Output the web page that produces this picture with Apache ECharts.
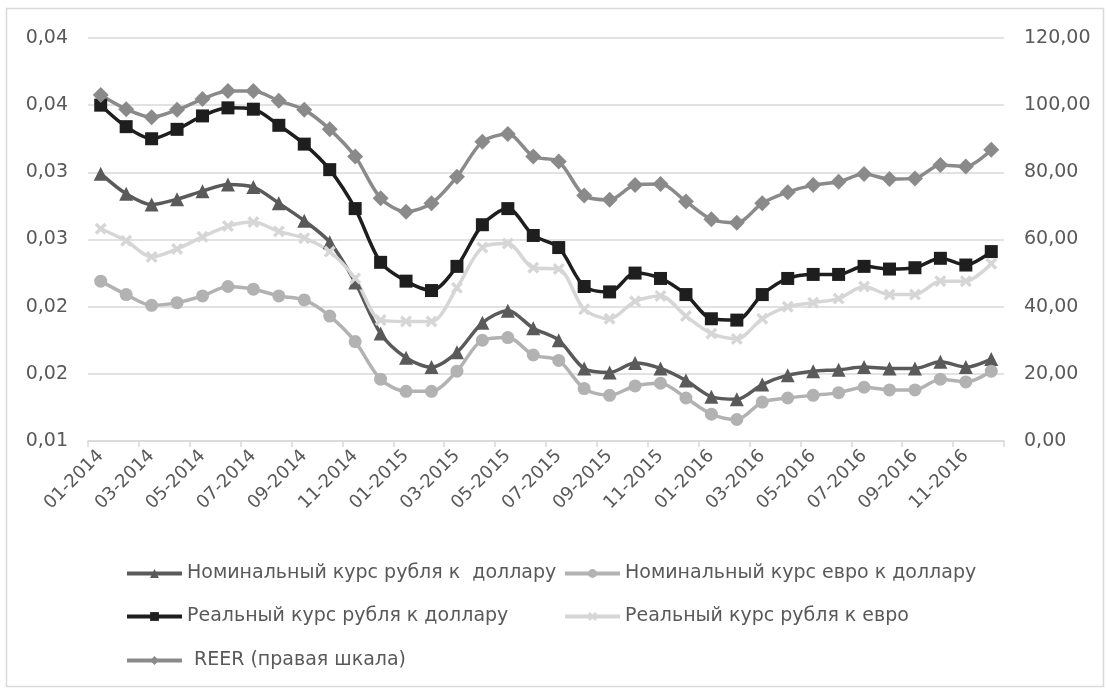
<!DOCTYPE html>
<html>
<head>
<meta charset="utf-8">
<script src="https://cdn.jsdelivr.net/npm/echarts@6/dist/echarts.min.js"></script>
<style>
  html, body { margin: 0; padding: 0; background: #ffffff; }
  #chart { width: 1108px; height: 695px; }
</style>
</head>
<body>
<div id="chart"></div>
<script>
// Months, Jan 2014 - Dec 2016
const months = [
  '01-2014','02-2014','03-2014','04-2014','05-2014','06-2014','07-2014','08-2014','09-2014','10-2014','11-2014','12-2014',
  '01-2015','02-2015','03-2015','04-2015','05-2015','06-2015','07-2015','08-2015','09-2015','10-2015','11-2015','12-2015',
  '01-2016','02-2016','03-2016','04-2016','05-2016','06-2016','07-2016','08-2016','09-2016','10-2016','11-2016','12-2016'
];

// Left scale series
const nominalRubUsd = [
  0.0299, 0.0284, 0.0276, 0.0280, 0.0286, 0.0291, 0.0289, 0.0277, 0.0264, 0.0248, 0.0218, 0.0180,
  0.0162, 0.0155, 0.0166, 0.0188, 0.0197, 0.0184, 0.0175, 0.0154, 0.0151, 0.0158, 0.0154, 0.0145,
  0.0133, 0.0131, 0.0142, 0.0149, 0.0152, 0.0153, 0.0155, 0.0154, 0.0154, 0.0159, 0.0155, 0.0161
];
const nominalEurUsd = [
  0.0219, 0.0209, 0.0201, 0.0203, 0.0208, 0.0215, 0.0213, 0.0208, 0.0205, 0.0193, 0.0174, 0.0146,
  0.0137, 0.0137, 0.0152, 0.0175, 0.0177, 0.0164, 0.0160, 0.0139, 0.0134, 0.0141, 0.0143, 0.0132,
  0.0120, 0.0116, 0.0129, 0.0132, 0.0134, 0.0136, 0.0140, 0.0138, 0.0138, 0.0146, 0.0144, 0.0152
];
const realRubUsd = [
  0.0350, 0.0334, 0.0325, 0.0332, 0.0342, 0.0348, 0.0347, 0.0335, 0.0321, 0.0302, 0.0273, 0.0233,
  0.0219, 0.0212, 0.0230, 0.0261, 0.0273, 0.0253, 0.0244, 0.0215, 0.0211, 0.0225, 0.0221, 0.0209,
  0.0191, 0.0190, 0.0209, 0.0221, 0.0224, 0.0224, 0.0230, 0.0228, 0.0229, 0.0236, 0.0231, 0.0241
];
const realRubEur = [
  0.0258, 0.0249, 0.0237, 0.0243, 0.0252, 0.0260, 0.0263, 0.0256, 0.0251, 0.0241, 0.0221, 0.0190,
  0.0189, 0.0189, 0.0214, 0.0244, 0.0247, 0.0229, 0.0228, 0.0198, 0.0191, 0.0204, 0.0208, 0.0193,
  0.0180, 0.0176, 0.0191, 0.0200, 0.0203, 0.0206, 0.0215, 0.0209, 0.0209, 0.0219, 0.0219, 0.0232
];

// Right scale series
const reer = [
  103.0, 98.8, 96.4, 98.6, 101.8, 104.2, 104.2, 101.3, 98.6, 92.8, 84.7, 72.3,
  68.3, 70.8, 78.7, 89.1, 91.4, 84.7, 83.2, 73.1, 71.8, 76.2, 76.5, 71.3,
  66.0, 65.0, 70.8, 74.1, 76.2, 77.2, 79.5, 78.0, 78.2, 82.2, 81.7, 86.7
];

// Tick labels
const leftTickLabels = ['0,01', '0,02', '0,02', '0,03', '0,03', '0,04', '0,04'];
const rightTickLabels = ['0,00', '20,00', '40,00', '60,00', '80,00', '100,00', '120,00'];

const seriesNames = [
  'Номинальный курс рубля к  доллару',
  'Номинальный курс евро к доллару',
  'Реальный курс рубля к доллару',
  'Реальный курс рубля к евро',
  'REER (правая шкала)'
];

const FONT = 'DejaVu Sans';
const TXT = '#595959';
const GRIDC = '#d9d9d9';
const crossPath = 'path://M2,0 L5,3 L8,0 L10,2 L7,5 L10,8 L8,10 L5,7 L2,10 L0,8 L3,5 L0,2 Z';

const chart = echarts.init(document.getElementById('chart'), null, { renderer: 'canvas' });

function lineSeries(name, data, color, symbol, size, yIndex) {
  return {
    name: name,
    type: 'line',
    yAxisIndex: yIndex,
    data: data,
    smooth: 0.3,
    symbol: symbol,
    symbolSize: size,
    showSymbol: true,
    lineStyle: { color: color, width: 3.5 },
    itemStyle: { color: color, borderColor: color, borderWidth: 0 },
    emphasis: { disabled: true }
  };
}

function legendAt(name, left, top, extraPad) {
  return {
    data: [name],
    left: left,
    top: top,
    itemWidth: 55,
    itemHeight: 11,
    itemGap: 0,
    padding: 0,
    selectedMode: false,
    lineStyle: { width: 4 },
    textStyle: { fontFamily: FONT, fontSize: 19, color: TXT, padding: [0, 0, 0, extraPad || 0] }
  };
}

chart.setOption({
  animation: false,
  backgroundColor: '#ffffff',
  grid: { left: 88, right: 104, top: 38, bottom: 254, containLabel: false },
  graphic: [{
    type: 'rect',
    shape: { x: 6.5, y: 8.5, width: 1097, height: 678 },
    style: { fill: 'none', stroke: GRIDC, lineWidth: 1.5 },
    silent: true
  }],
  legend: [
    legendAt(seriesNames[0], 125, 564),
    legendAt(seriesNames[1], 563, 564),
    legendAt(seriesNames[2], 125, 607),
    legendAt(seriesNames[3], 563, 607),
    legendAt(seriesNames[4], 125, 651, 7)
  ],
  xAxis: {
    type: 'category',
    data: months,
    boundaryGap: true,
    axisLine: { show: true, lineStyle: { color: GRIDC, width: 1.5 } },
    axisTick: { show: true, interval: 1, length: 6, lineStyle: { color: GRIDC, width: 1.5 } },
    axisLabel: {
      interval: 1,
      rotate: 45,
      margin: 12,
      fontFamily: FONT,
      fontSize: 18,
      color: TXT
    },
    splitLine: { show: false }
  },
  yAxis: [{
    type: 'value',
    min: 0.01,
    max: 0.04,
    interval: 0.005,
    position: 'left',
    axisLine: { show: false },
    axisTick: { show: false },
    axisLabel: {
      margin: 20,
      fontFamily: FONT,
      fontSize: 19,
      color: TXT,
      formatter: function (v) { return leftTickLabels[Math.round((v - 0.01) / 0.005)]; }
    },
    splitLine: { show: true, lineStyle: { color: GRIDC, width: 1.5 } }
  }, {
    type: 'value',
    min: 0,
    max: 120,
    interval: 20,
    position: 'right',
    axisLine: { show: false },
    axisTick: { show: false },
    axisLabel: {
      margin: 20,
      fontFamily: FONT,
      fontSize: 19,
      color: TXT,
      formatter: function (v) { return rightTickLabels[Math.round(v / 20)]; }
    },
    splitLine: { show: false }
  }],
  series: [
    lineSeries(seriesNames[0], nominalRubUsd, '#5a5a5a', 'triangle', 14, 0),
    lineSeries(seriesNames[1], nominalEurUsd, '#b2b2b2', 'circle', 13, 0),
    lineSeries(seriesNames[2], realRubUsd, '#1e1e1e', 'rect', 13, 0),
    lineSeries(seriesNames[3], realRubEur, '#d6d6d6', crossPath, 12, 0),
    lineSeries(seriesNames[4], reer, '#8a8a8a', 'diamond', 16, 1)
  ]
});
</script>
</body>
</html>
